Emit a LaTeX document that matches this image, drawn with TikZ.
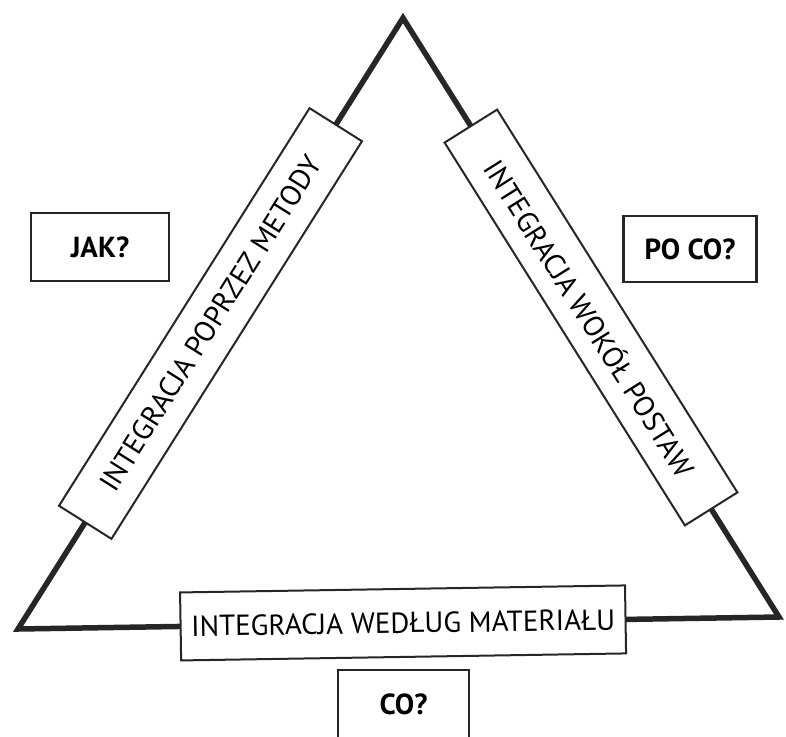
\documentclass[tikz,border=0pt]{standalone}
\usepackage{fontspec}
\setmainfont{PT Sans}
\usetikzlibrary{positioning}

\begin{document}
\begin{tikzpicture}[x=1pt,y=-1pt,
		bar/.style={draw=black!85,line width=2pt,fill=white,minimum height=62pt,inner sep=0pt,font=\fontsize{29}{32}\selectfont},
		ask/.style={draw=black!85,line width=2.2pt,fill=white,minimum height=68pt,font=\bfseries\fontsize{29}{32}\selectfont}]
		\useasboundingbox (0,0) rectangle (786,736);
		
		\coordinate (top) at (403,18);
		\coordinate (bl) at (18,629);
		\coordinate (br) at (779,617);
		
		\draw[black!85,line width=5.5pt,line join=miter] (bl)--(top)--(br)--cycle;
		
		\path (bl)--(top) node[bar,sloped,midway,minimum width=470pt] (metody) {INTEGRACJA POPRZEZ METODY};
		\path (top)--(br) node[bar,sloped,midway,minimum width=452pt] (postawy) {INTEGRACJA WOKÓŁ POSTAW};
		\path (bl)--(br) node[bar,sloped,pos=0.506,minimum width=445pt,minimum height=68pt] (material) {INTEGRACJA WEDŁUG MATERIAŁU};
		
		\node[ask,minimum width=138pt] (jak) at (100,247) {JAK?};
		\node[ask,minimum width=133pt,minimum height=66pt] (poco) at (690,249) {PO CO?};
		\node[ask,minimum width=131pt,below=11pt of material] (co) {CO?};
	\end{tikzpicture}
\end{document}
